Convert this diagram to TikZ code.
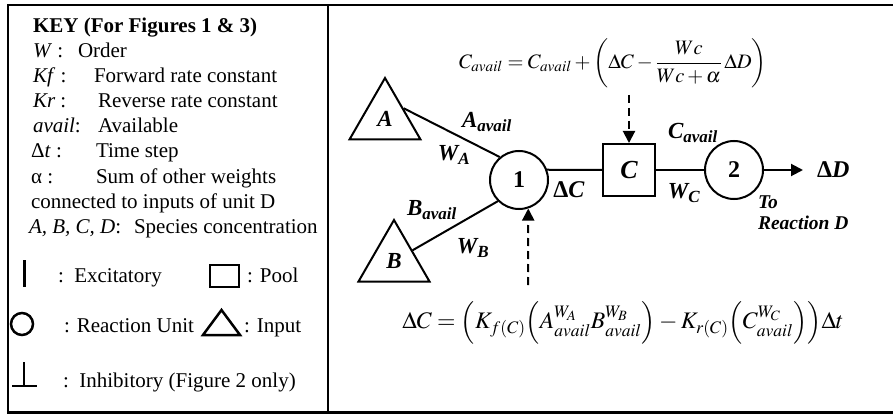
\documentclass[tikz,border=0pt]{standalone}
\usepackage{amsmath}
\usepackage{mathptmx}
\usepackage{fontspec}
\setmainfont{Liberation Serif}
\usetikzlibrary{shapes.geometric,arrows.meta}

\tikzset{
  frame/.style={line width=2.5pt},
  unit/.style={circle,draw,line width=2pt,minimum size=58pt,inner sep=0pt,
    font=\fontsize{24}{24}\selectfont\bfseries},
  input/.style={regular polygon,regular polygon sides=3,draw,line width=2pt,
    minimum size=82pt,inner sep=0pt,font=\fontsize{23}{23}\selectfont\bfseries\itshape},
  pool/.style={rectangle,draw,line width=2pt,minimum size=52pt,inner sep=0pt,
    font=\fontsize{26}{26}\selectfont\bfseries\itshape},
  lab/.style={inner sep=0pt,font=\fontsize{23}{23}\selectfont\bfseries\itshape},
  keytxt/.style={anchor=base west,inner sep=0pt,font=\fontsize{21}{25}\selectfont},
  dasharrow/.style={->,line width=2pt,dash pattern=on 8pt off 5pt},
}

\begin{document}
\begin{tikzpicture}[x=1pt,y=-1pt,>={Triangle[length=12pt,width=12pt]},line width=2pt]
\useasboundingbox (0,0) rectangle (893,414);
\draw[frame] (8,5) rectangle (900,412.5);
\draw[frame] (328,5) -- (328,412.5);

% key
\node[keytxt] (k0) at (32,33) {\bfseries KEY (For Figures 1 \& 3)};
\node[keytxt] (k1) at (32,58) {\textit{W} :};
\node[keytxt] (d1) at (77,58) {Order};
\node[keytxt] (k2) at (32,83) {\textit{Kf} :};
\node[keytxt] (d2) at (93,83) {Forward rate constant};
\node[keytxt] (k3) at (32,108) {\textit{Kr} :};
\node[keytxt] (d3) at (97,108) {Reverse rate constant};
\node[keytxt] (k4) at (32,133) {\textit{avail}:};
\node[keytxt] (d4) at (97,133) {Available};
\node[keytxt] (k5) at (30,158) {Δ\textit{t} :};
\node[keytxt] (d5) at (95,158) {Time step};
\node[keytxt] (k6) at (30,183) {α :};
\node[keytxt] (d6) at (95,183) {Sum of other weights};
\node[keytxt] (k7) at (30,208) {connected to inputs of unit D};
\node[keytxt] (k8) at (28,233) {\textit{A, B, C, D}:};
\node[keytxt] (d8) at (133,233) {Species concentration};

\draw[line width=3pt] (24,260) -- (24,287);
\node[keytxt] (exc) at (57,282) {:\ \ Excitatory};
\draw[frame] (210,265) rectangle (239,287);
\node[keytxt] (poo) at (246,282) {: Pool};
\draw[frame] (22,324) circle (11);
\node[keytxt] (reu) at (63,332) {: Reaction Unit};
\draw[frame] (203,335) -- (240,335) -- (221.5,310) -- cycle;
\node[keytxt] (inp) at (243,332) {: Input};
\draw[frame] (24,362) -- (24,386) (12,386) -- (37,386);
\node[keytxt] (inh) at (62,387) {:\ \ Inhibitory (Figure 2 only)};

% reaction
\node[input] (tA) at (385,119) {A};
\node[input] (tB) at (394,261) {B};
\node[unit] (c1) at (519,180) {1};
\node[pool] (cbox) at (629,170) {C};
\node[unit] (c2) at (734,170) {2};
\node[lab,anchor=west,inner sep=3pt,font=\fontsize{24}{24}\selectfont\bfseries] (dD) at (813,170) {Δ\textit{D}};

\draw (tA.side 3) -- (c1.130);
\draw (tB.side 3) -- (c1.225);
\draw (c1.20) -- (cbox.west);
\draw (cbox) -- (c2);
\draw[->,shorten >=10pt] (c2) -- (dD.west);

\node[lab] (aav) at (487,122) {A\textsubscript{avail}};
\node[lab] (wa) at (454,155) {W\textsubscript{A}};
\node[lab] (bav) at (432,210) {B\textsubscript{avail}};
\node[lab] (wb) at (473,248) {W\textsubscript{B}};
\node[lab,font=\fontsize{24}{24}\selectfont\bfseries] (dc) at (569,190) {Δ\textit{C}};
\node[lab] (cav) at (693,133) {C\textsubscript{avail}};
\node[lab] (wc) at (684,193) {W\textsubscript{C}};
\node[lab,anchor=north west,align=left,font=\fontsize{19.5}{21}\selectfont\bfseries\itshape] (tod) at (757,195) {To\\Reaction D};

\node[inner sep=0pt,font=\fontsize{20.5}{20.5}\selectfont] (eqc) at (613,63)
  {$C_{avail} = C_{avail} + \left(\Delta C - \dfrac{Wc}{Wc+\alpha}\,\Delta D\right)$};
\node[inner sep=0pt,font=\fontsize{23.7}{23.7}\selectfont] (eqd) at (623,323)
  {$\Delta C = \Bigl(K_{f(C)}\Bigl(A_{avail}^{W_A}B_{avail}^{W_B}\Bigr) - K_{r(C)}\Bigl(C_{avail}^{W_C}\Bigr)\Bigr)\Delta t$};

\coordinate (up) at (629,95);
\coordinate (lo) at (528,285);
\draw[dasharrow] (up) -- (cbox.north);
\draw[dasharrow] (lo) -- (c1.-72);

\end{tikzpicture}
\end{document}
